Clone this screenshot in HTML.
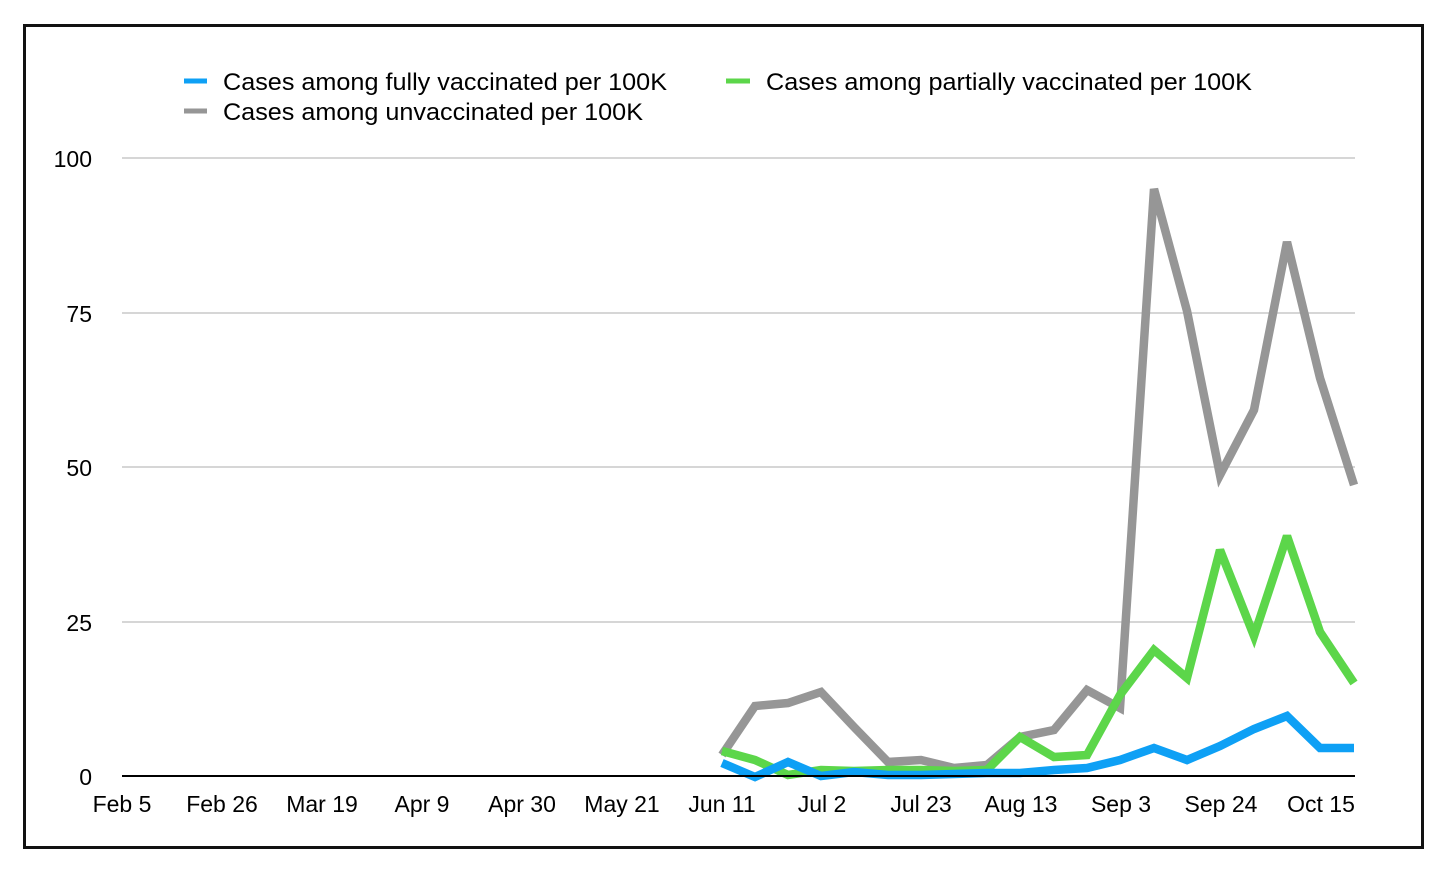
<!DOCTYPE html>
<html><head><meta charset="utf-8"><style>
html,body{margin:0;padding:0;background:#fff;}
svg{display:block;font-family:"Liberation Sans",Arial,sans-serif;}
</style></head><body>
<svg width="1454" height="874" viewBox="0 0 1454 874" xmlns="http://www.w3.org/2000/svg">
<rect x="24.5" y="25.5" width="1398" height="822" fill="#fff" stroke="#111" stroke-width="3"/>
<!-- legend -->
<line x1="184" y1="81" x2="207" y2="81" stroke="#0ea0f5" stroke-width="5"/>
<text x="223" y="90" font-size="24" textLength="444" lengthAdjust="spacingAndGlyphs" fill="#000">Cases among fully vaccinated per 100K</text>
<line x1="726" y1="81" x2="750" y2="81" stroke="#5cd64a" stroke-width="5"/>
<text x="766" y="90" font-size="24" textLength="486" lengthAdjust="spacingAndGlyphs" fill="#000">Cases among partially vaccinated per 100K</text>
<line x1="184" y1="111" x2="207" y2="111" stroke="#969696" stroke-width="5"/>
<text x="223" y="120" font-size="24" textLength="420" lengthAdjust="spacingAndGlyphs" fill="#000">Cases among unvaccinated per 100K</text>
<!-- grid -->
<g stroke="#bdbdbd" stroke-width="1.3">
<line x1="122" y1="158" x2="1355" y2="158"/>
<line x1="122" y1="313" x2="1355" y2="313"/>
<line x1="122" y1="467" x2="1355" y2="467"/>
<line x1="122" y1="622" x2="1355" y2="622"/>
</g>
<g font-size="23" text-anchor="end" fill="#000">
<text x="92" y="167">100</text>
<text x="92" y="322">75</text>
<text x="92" y="476">50</text>
<text x="92" y="631">25</text>
<text x="92" y="785">0</text>
</g>
<g font-size="23" text-anchor="middle" fill="#000">
<text x="122" y="812">Feb 5</text>
<text x="222" y="812">Feb 26</text>
<text x="322" y="812">Mar 19</text>
<text x="422" y="812">Apr 9</text>
<text x="522" y="812">Apr 30</text>
<text x="622" y="812">May 21</text>
<text x="722" y="812">Jun 11</text>
<text x="822" y="812">Jul 2</text>
<text x="921" y="812">Jul 23</text>
<text x="1021" y="812">Aug 13</text>
<text x="1121" y="812">Sep 3</text>
<text x="1221" y="812">Sep 24</text>
<text x="1321" y="812">Oct 15</text>
</g>
<g fill="none" stroke-width="8.5" stroke-linejoin="miter" stroke-miterlimit="3">
<polyline stroke="#969696" points="722,755 755,706 788,703 821,692 854,727 888,762 921,760 954,768 987,765 1020,737 1054,730 1087,690 1120,708 1154,189 1187,311 1220,475 1254,410 1287,242 1320,378 1354,485"/>
<polyline stroke="#5cd64a" points="722,751 755,760 788,775 821,770 854,771 888,770 921,770 954,771 987,770 1020,737 1054,757 1087,755 1120,695 1154,650 1187,678 1220,550 1254,636 1287,536 1320,632 1354,683"/>
<polyline stroke="#0ea0f5" points="722,763 755,777 788,762 821,776 854,772 888,775 921,775 954,774 987,773 1020,773 1054,770 1087,768 1120,760 1154,748 1187,760 1220,746 1254,729 1287,716 1320,748 1354,748"/>
</g>
<line x1="122" y1="776" x2="1355" y2="776" stroke="#000" stroke-width="2"/>
</svg>
</body></html>
